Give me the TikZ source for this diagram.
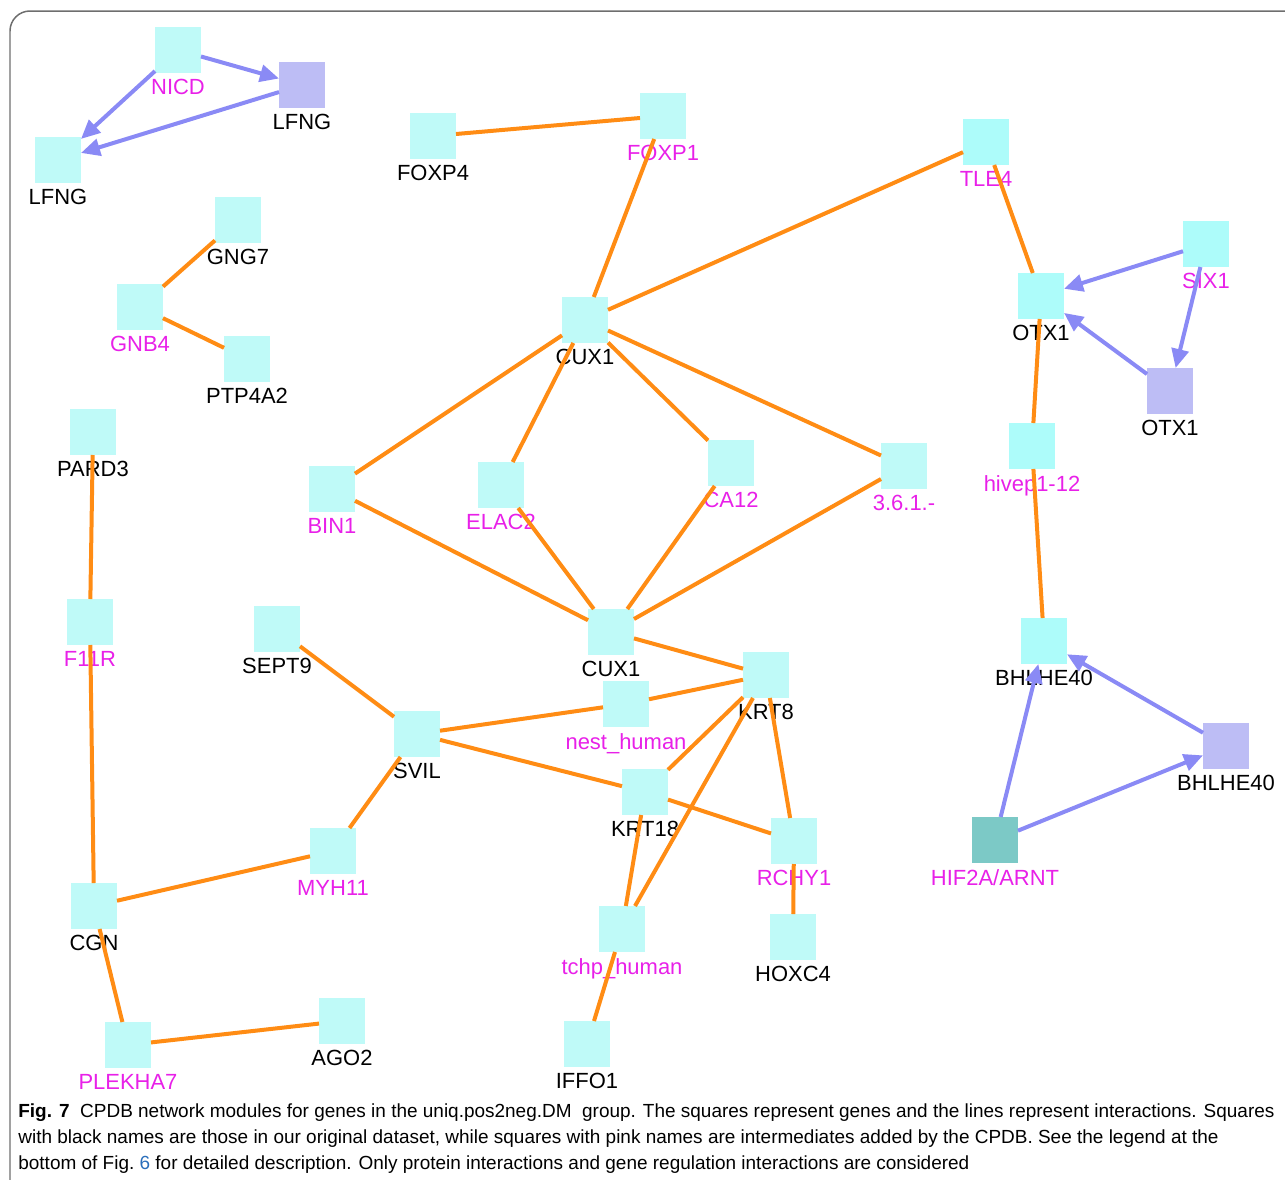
\documentclass[tikz,border=0pt]{standalone}
\usepackage{fontspec}
\usepackage{tikz}
\usetikzlibrary{arrows.meta}
\newfontfamily\genefont{Liberation Sans}
\newfontfamily\capfont{Liberation Sans}
\definecolor{boxcyan}{HTML}{BFFAF8}
\definecolor{boxcyanhi}{HTML}{ADFCFA}
\definecolor{boxpurple}{HTML}{BDBDF5}
\definecolor{boxteal}{HTML}{7CC9C6}
\definecolor{ppiorange}{HTML}{FF8C14}
\definecolor{regblue}{HTML}{8A8AF5}
\definecolor{pinkname}{HTML}{E820E8}
\definecolor{figlink}{HTML}{2A6EBB}
\definecolor{framegray}{HTML}{6E6E6E}

\tikzset{
  gene/.style={rectangle, fill=boxcyan, minimum size=0.92cm, inner sep=0pt, outer sep=0pt},
  genehi/.style={gene, fill=boxcyanhi},
  genep/.style={gene, fill=boxpurple},
  genet/.style={gene, fill=boxteal},
  blk/.style={text=black},
  pnk/.style={text=pinkname},
  ppi/.style={ppiorange, line width=0.08cm},
  reg/.style={regblue, line width=0.08cm, -{Triangle[length=0.38cm,width=0.34cm]}},
}

\begin{document}
\begin{tikzpicture}[x=0.02cm, y=-0.02cm, label distance=0.12cm,
    every label/.style={inner sep=0pt, font=\genefont\fontsize{12.5}{14}\selectfont}]
  \useasboundingbox (0,0) rectangle (1285,1180);
  \draw[framegray, line width=0.03cm, rounded corners=0.4cm] (10,1180) -- (10,11) -- (1285,11);

  %%%%% GENES %%%%%
  \node[gene, label={[pnk]below:NICD}] (nicd) at (178,50) {};
  \node[genep, label={[blk]below:LFNG}] (lfngp) at (302,85) {};
  \node[gene, label={[blk]below:LFNG}] (lfng) at (58,160) {};
  \node[gene, label={[blk]below:FOXP4}] (foxp4) at (433,136) {};
  \node[gene, label={[pnk]below:FOXP1}] (foxp1) at (663,116) {};
  \node[genehi, label={[pnk]below:TLE4}] (tle4) at (986,142) {};
  \node[gene, label={[blk]below:GNG7}] (gng7) at (238,220) {};
  \node[gene, label={[pnk]below:GNB4}] (gnb4) at (140,307) {};
  \node[gene, label={[blk]below:PTP4A2}] (ptp4a2) at (247,359) {};
  \node[gene, label={[blk]below:CUX1}] (cux1a) at (585,320) {};
  \node[genehi, label={[pnk]below:SIX1}] (six1) at (1206,244) {};
  \node[genehi, label={[blk]below:OTX1}] (otx1) at (1041,296) {};
  \node[genep, label={[blk]below:OTX1}] (otx1p) at (1170,391) {};
  \node[gene, label={[blk]below:PARD3}] (pard3) at (93,432) {};
  \node[gene, label={[pnk]below:BIN1}] (bin1) at (332,489) {};
  \node[gene, label={[pnk]below:ELAC2}] (elac2) at (501,485) {};
  \node[gene, label={[pnk]below:CA12}] (ca12) at (731,463) {};
  \node[gene, label={[pnk]below:3.6.1.-}] (ec) at (904,466) {};
  \node[genehi, label={[pnk]below:hivep1-12}] (hivep) at (1032,446) {};
  \node[gene, label={[pnk]below:F11R}] (f11r) at (90,622) {};
  \node[gene, label={[blk]below:SEPT9}] (sept9) at (277,629) {};
  \node[gene, label={[blk]below:CUX1}] (cux1b) at (611,632) {};
  \node[gene, label={[blk]below:KRT8}] (krt8) at (766,675) {};
  \node[gene, label={[pnk]below:nest\_human}] (nest) at (626,704) {};
  \node[gene, label={[blk]below:SVIL}] (svil) at (417,734) {};
  \node[genehi, label={[blk]below:BHLHE40}] (bhlhe) at (1044,641) {};
  \node[genep, label={[blk]below:BHLHE40}] (bhlhep) at (1226,746) {};
  \node[gene, label={[blk]below:KRT18}] (krt18) at (645,792) {};
  \node[gene, label={[pnk]below:RCHY1}] (rchy1) at (794,841) {};
  \node[gene, label={[pnk]below:MYH11}] (myh11) at (333,851) {};
  \node[genet, label={[pnk]below:HIF2A/ARNT}] (hif) at (995,840) {};
  \node[gene, label={[blk]below:CGN}] (cgn) at (94,906) {};
  \node[gene, label={[blk]below:HOXC4}] (hoxc4) at (793,937) {};
  \node[gene, label={[pnk]below:tchp\_human}] (tchp) at (622,929) {};
  \node[gene, label={[blk]below:AGO2}] (ago2) at (342,1021) {};
  \node[gene, label={[pnk]below:PLEKHA7}] (plekha7) at (128,1045) {};
  \node[gene, label={[blk]below:IFFO1}] (iffo1) at (587,1044) {};

  %%%%% PROTEIN INTERACTIONS %%%%%
  \draw[ppi] (foxp4) -- (foxp1);
  \draw[ppi] (foxp1) -- (cux1a);
  \draw[ppi] (tle4) -- (cux1a);
  \draw[ppi] (tle4) -- (otx1);
  \draw[ppi] (gng7) -- (gnb4);
  \draw[ppi] (gnb4) -- (ptp4a2);
  \draw[ppi] (cux1a) -- (bin1);
  \draw[ppi] (cux1a) -- (elac2);
  \draw[ppi] (cux1a) -- (ca12);
  \draw[ppi] (cux1a) -- (ec);
  \draw[ppi] (otx1) -- (hivep);
  \draw[ppi] (hivep) -- (bhlhe);
  \draw[ppi] (pard3) -- (f11r);
  \draw[ppi] (f11r) -- (cgn);
  \draw[ppi] (bin1) -- (cux1b);
  \draw[ppi] (elac2) -- (cux1b);
  \draw[ppi] (ca12) -- (cux1b);
  \draw[ppi] (ec) -- (cux1b);
  \draw[ppi] (cux1b) -- (krt8);
  \draw[ppi] (sept9) -- (svil);
  \draw[ppi] (svil) -- (nest);
  \draw[ppi] (nest) -- (krt8);
  \draw[ppi] (svil) -- (krt18);
  \draw[ppi] (krt18) -- (rchy1);
  \draw[ppi] (krt8) -- (krt18);
  \draw[ppi] (krt8) -- (tchp);
  \draw[ppi] (krt8) -- (rchy1);
  \draw[ppi] (krt18) -- (tchp);
  \draw[ppi] (rchy1) -- (hoxc4);
  \draw[ppi] (svil) -- (myh11);
  \draw[ppi] (myh11) -- (cgn);
  \draw[ppi] (cgn) -- (plekha7);
  \draw[ppi] (plekha7) -- (ago2);
  \draw[ppi] (tchp) -- (iffo1);

  %%%%% GENE REGULATION %%%%%
  \draw[reg] (nicd) -- (lfngp);
  \draw[reg] (nicd) -- (lfng);
  \draw[reg] (lfngp) -- (lfng);
  \draw[reg] (six1) -- (otx1);
  \draw[reg] (six1) -- (otx1p);
  \draw[reg] (otx1p) -- (otx1);
  \draw[reg] (bhlhep) -- (bhlhe);
  \draw[reg] (hif) -- (bhlhe);
  \draw[reg] (hif) -- (bhlhep);

  %%%%% CAPTION %%%%%
  \node[anchor=north west, align=left, inner sep=0pt,
        font=\capfont\fontsize{10.8}{14.8}\selectfont] (caption) at (18,1103)
    {\textbf{Fig. 7}\ \ CPDB network modules for genes in the uniq.pos2neg.DM\ \ group. The squares represent genes and the lines represent interactions. Squares\\
     with black names are those in our original dataset, while squares with pink names are intermediates added by the CPDB. See the legend at the\\
     bottom of Fig.~\textcolor{figlink}{6} for detailed description. Only protein interactions and gene regulation interactions are considered};
\end{tikzpicture}
\end{document}
